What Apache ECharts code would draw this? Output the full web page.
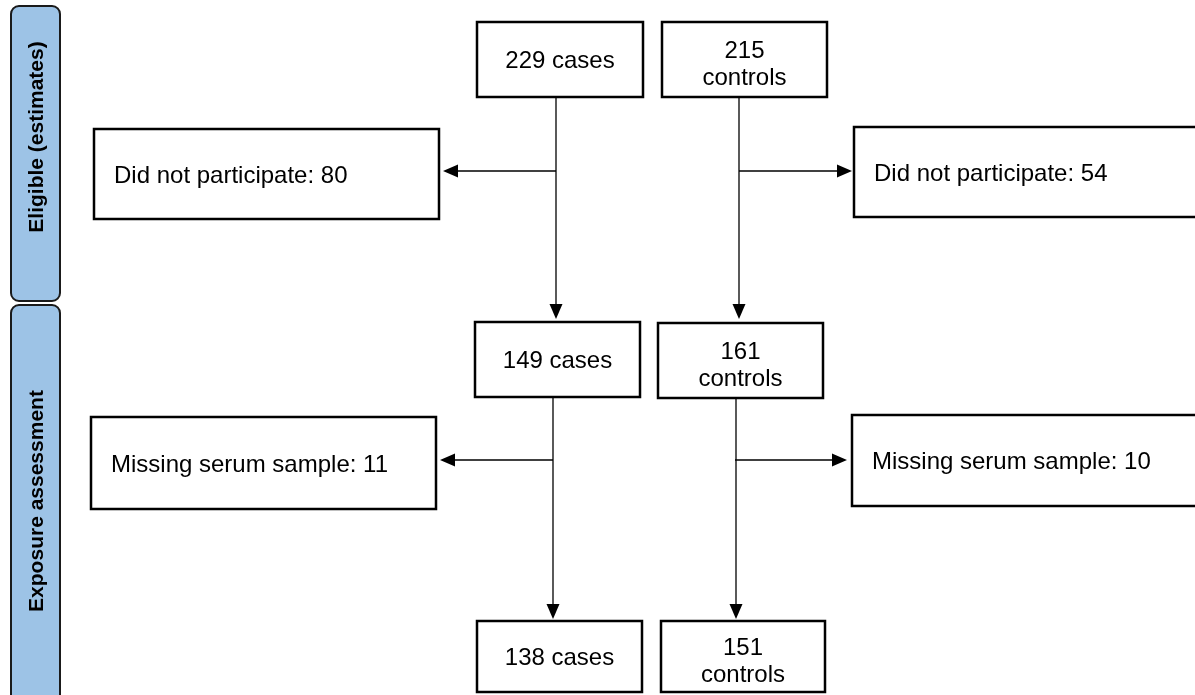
<!DOCTYPE html>
<html>
<head>
<meta charset="utf-8">
<script src="https://cdn.jsdelivr.net/npm/echarts@6/dist/echarts.min.js"></script>
<style>
html,body{margin:0;padding:0;background:#fff;}
#chart{width:1195px;height:695px;}
</style>
</head>
<body>
<div id="chart"></div>
<script>
// ---- content ----
const stages = ['Eligible (estimates)', 'Exposure assessment'];
const caseCounts = [229, 149, 138];
const controlCounts = [215, 161, 151];
const exclusionReasons = ['Did not participate', 'Missing serum sample'];
const caseExcluded = [80, 11];
const controlExcluded = [54, 10];

// ---- layout (diagram coordinates, px-like units) ----
const stageBoxes = [[11, 6, 60, 301], [11, 305, 60, 705]];
const stageLabelCenters = [[37, 137], [37, 501]];
const caseBoxes = [[477, 22, 643, 97], [475, 322, 640, 397], [477, 621, 642, 692]];
const controlBoxes = [[662, 22, 827, 97], [658, 323, 823, 398], [661, 621, 825, 692]];
const caseExclBoxes = [[94, 129, 439, 219], [91, 417, 436, 509]];
const controlExclBoxes = [[854, 127, 1210, 217], [852, 415, 1210, 506]];
// connectors: [x1, y1, x2(tip), y2(tip)]
const connectors = [
  [556, 97, 556, 319], [556, 171, 443, 171],
  [739, 97, 739, 319], [739, 171, 852, 171],
  [553, 397, 553, 619], [553, 460, 440, 460],
  [736, 398, 736, 619], [735, 460, 847, 460]
];

const FONT = '"Liberation Sans", Arial, Helvetica, sans-serif';

const mainBoxes = caseBoxes.concat(controlBoxes);
const mainLabels = caseCounts.map(n => n + ' cases').concat(controlCounts.map(n => n + '\ncontrols'));
const exclBoxes = caseExclBoxes.concat(controlExclBoxes);
const exclLabels = caseExcluded.map((n, i) => exclusionReasons[i] + ': ' + n)
  .concat(controlExcluded.map((n, i) => exclusionReasons[i] + ': ' + n));

function rectFrom(api) {
  const p1 = api.coord([api.value(0), api.value(1)]);
  const p2 = api.coord([api.value(2), api.value(3)]);
  return {x: p1[0], y: p1[1], width: p2[0] - p1[0], height: p2[1] - p1[1]};
}

const chart = echarts.init(document.getElementById('chart'), null, {renderer: 'canvas'});
chart.setOption({
  backgroundColor: '#ffffff',
  animation: false,
  grid: {left: 0, right: 0, top: 0, bottom: 0},
  xAxis: {type: 'value', min: 0, max: 1195, show: false},
  yAxis: {type: 'value', min: 0, max: 695, inverse: true, show: false},
  series: [
    {
      type: 'custom', name: 'stages', clip: false,
      data: stageBoxes,
      renderItem: function (params, api) {
        const r = rectFrom(api);
        const c = api.coord(stageLabelCenters[params.dataIndex]);
        return {type: 'group', children: [
          {type: 'rect', shape: {x: r.x, y: r.y, width: r.width, height: r.height, r: 8},
           style: {fill: '#9dc3e6', stroke: '#1a1a1a', lineWidth: 2}},
          {type: 'text', x: c[0], y: c[1], rotation: Math.PI / 2,
           style: {text: stages[params.dataIndex], fill: '#000',
             font: 'bold 21px ' + FONT, align: 'center', verticalAlign: 'middle',
             textAlign: 'center', textVerticalAlign: 'middle'}}
        ]};
      }
    },
    {
      type: 'custom', name: 'connectors', clip: false,
      data: connectors,
      renderItem: function (params, api) {
        const a = api.coord([api.value(0), api.value(1)]);
        const b = api.coord([api.value(2), api.value(3)]);
        const dx = b[0] - a[0], dy = b[1] - a[1];
        const len = Math.sqrt(dx * dx + dy * dy);
        const ux = dx / len, uy = dy / len;
        const L = 15, W = 6.5;
        const bx = b[0] - ux * L, by = b[1] - uy * L;
        return {type: 'group', children: [
          {type: 'line', shape: {x1: a[0], y1: a[1], x2: bx, y2: by},
           style: {stroke: '#000', lineWidth: 1.3}},
          {type: 'polygon', shape: {points: [
            [b[0], b[1]], [bx - uy * W, by + ux * W], [bx + uy * W, by - ux * W]]},
           style: {fill: '#000'}}
        ]};
      }
    },
    {
      type: 'custom', name: 'counts', clip: false,
      data: mainBoxes,
      renderItem: function (params, api) {
        const r = rectFrom(api);
        const label = mainLabels[params.dataIndex];
        const dy = label.indexOf('\n') >= 0 ? 5 : 2;
        return {type: 'group', children: [
          {type: 'rect', shape: r, style: {fill: '#fff', stroke: '#000', lineWidth: 2.5}},
          {type: 'text', x: r.x + r.width / 2, y: r.y + r.height / 2 + dy,
           style: {text: label, fill: '#000',
             font: '24px ' + FONT, lineHeight: 27, align: 'center', verticalAlign: 'middle',
             textAlign: 'center', textVerticalAlign: 'middle'}}
        ]};
      }
    },
    {
      type: 'custom', name: 'exclusions', clip: false,
      data: exclBoxes,
      renderItem: function (params, api) {
        const r = rectFrom(api);
        return {type: 'group', children: [
          {type: 'rect', shape: r, style: {fill: '#fff', stroke: '#000', lineWidth: 2.5}},
          {type: 'text', x: r.x + 20, y: r.y + r.height / 2 + 2,
           style: {text: exclLabels[params.dataIndex], fill: '#000',
             font: '24px ' + FONT, align: 'left', verticalAlign: 'middle',
             textAlign: 'left', textVerticalAlign: 'middle'}}
        ]};
      }
    }
  ]
});
</script>
</body>
</html>
